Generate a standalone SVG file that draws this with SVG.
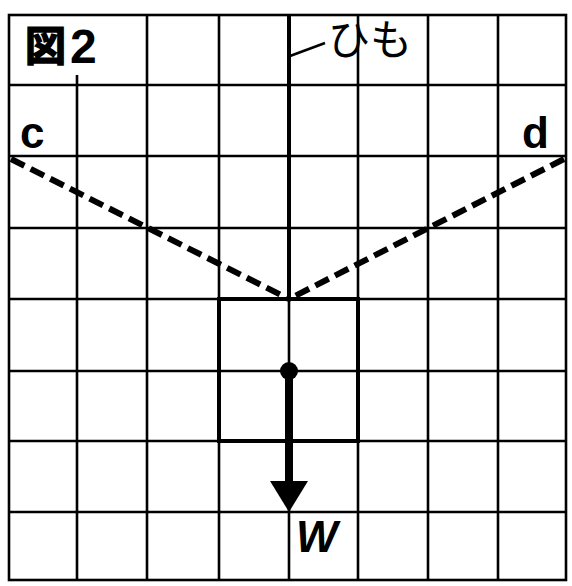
<svg xmlns="http://www.w3.org/2000/svg" width="572" height="586" viewBox="0 0 572 586">
<style>
.g{stroke:#000;stroke-width:2.6;fill:none}
.b{stroke:#000;stroke-width:4;fill:none}
.dash{stroke:#000;stroke-width:6;fill:none;stroke-dasharray:15 7}
.t{font-family:"Liberation Sans","Noto Sans CJK JP",sans-serif;fill:#000}
</style>
<rect width="572" height="586" fill="#fff"/>
<g id="grid">
<path class="g" d="M77 75V580M147 15V580M219 15V580M358 15V580M428 15V580M498 15V580M289 299V580"/>
<path class="g" d="M9 85H566M9 156H566M9 228H566M9 299H566M9 371H566M9 441H566M9 512H566"/>
<rect class="g" x="9" y="15" width="557" height="565" stroke-width="3"/>
</g>
<g id="string">
<line class="b" x1="289" y1="15" x2="289" y2="299"/>
<line class="g" x1="290" y1="56" x2="325" y2="43"/>
<text class="t" x="328" y="55" font-size="42">ひも</text>
</g>
<g id="object">
<rect class="b" x="219" y="299" width="139" height="142"/>
</g>
<g id="connectors">
<line class="dash" x1="11" y1="159" x2="289" y2="299"/>
<line class="dash" x1="564" y1="159" x2="289" y2="299"/>
</g>
<g id="force-w">
<circle cx="289" cy="371" r="9" fill="#000"/>
<line x1="289" y1="371" x2="289" y2="485" stroke="#000" stroke-width="8"/>
<polygon points="270,481 308,481 289,512" fill="#000"/>
<text class="t" x="296" y="552" font-size="44" font-weight="bold" font-style="italic">W</text>
</g>
<g id="labels">
<text class="t" x="25" y="61" font-size="41" font-weight="bold" stroke="#000" stroke-width="1.5">図</text>
<text class="t" x="70" y="63" font-size="48" font-weight="bold">2</text>
<text class="t" x="20" y="148" font-size="44" font-weight="bold">c</text>
<text class="t" x="522" y="148" font-size="44" font-weight="bold">d</text>
</g>
</svg>
